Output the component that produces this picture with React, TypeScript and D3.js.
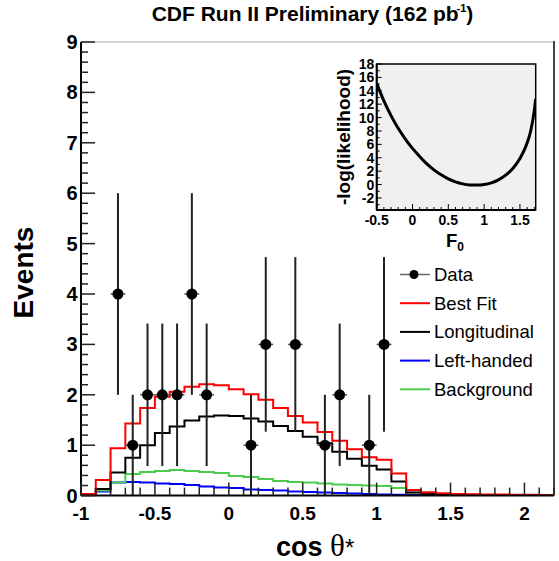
import React from "react";
import * as d3 from "d3";

// ---------- data ----------
const histStart = -1;
const binWidth = 0.1;
const bestFit = [0.03, 0.31, 0.94, 1.43, 1.74, 1.96, 2.06, 2.16, 2.21, 2.19, 2.11, 2.01, 1.9, 1.74, 1.58, 1.45, 1.26, 1.09, 0.92, 0.76, 0.71, 0.44, 0.11, 0.065, 0.045, 0.03, 0.025, 0.02, 0.02, 0.015, 0.015, 0.01];
const longitudinal = [0.02, 0.13, 0.46, 0.75, 1.0, 1.24, 1.37, 1.49, 1.57, 1.59, 1.58, 1.53, 1.47, 1.38, 1.28, 1.17, 1.04, 0.87, 0.73, 0.59, 0.52, 0.28, 0.06, 0.03, 0.02, 0.015, 0.01, 0.01, 0.01, 0.005, 0.005, 0.005];
const leftHanded = [0.0, 0.08, 0.26, 0.27, 0.26, 0.24, 0.23, 0.21, 0.18, 0.16, 0.15, 0.12, 0.11, 0.1, 0.08, 0.07, 0.06, 0.05, 0.04, 0.03, 0.02, 0.015, 0.01, 0.005, 0.005, 0.003, 0.002, 0.002, 0.002, 0.001, 0.001, 0.001];
const background = [0.0, 0.1, 0.26, 0.43, 0.47, 0.49, 0.51, 0.49, 0.47, 0.45, 0.39, 0.37, 0.33, 0.29, 0.27, 0.26, 0.24, 0.22, 0.21, 0.2, 0.19, 0.15, 0.06, 0.04, 0.025, 0.02, 0.015, 0.01, 0.01, 0.01, 0.005, 0.005];

const dataX = [-0.75, -0.65, -0.55, -0.45, -0.35, -0.25, -0.15, 0.15, 0.25, 0.45, 0.65, 0.75, 0.95, 1.05];
const dataY = [4, 1, 2, 2, 2, 4, 2, 1, 3, 3, 1, 2, 1, 3];

const xTickValues = [-1, -0.5, 0, 0.5, 1, 1.5, 2];
const xTickLabels = ["-1", "-0.5", "0", "0.5", "1", "1.5", "2"];
const yTickValues = [0, 1, 2, 3, 4, 5, 6, 7, 8, 9];
const yTickLabels = ["0", "1", "2", "3", "4", "5", "6", "7", "8", "9"];

const legendLabels = ["Data", "Best Fit", "Longitudinal", "Left-handed", "Background"];
const legendColors = ["#000000", "#ff0000", "#000000", "#0000ff", "#4ccc4c"];

const likeF0 = [-0.5, -0.4, -0.3, -0.2, -0.1, 0, 0.1, 0.2, 0.3, 0.4, 0.5, 0.6, 0.7, 0.8, 0.9, 1.0, 1.1, 1.2, 1.3, 1.4, 1.5, 1.55, 1.6, 1.65, 1.7, 1.72];
const likeVal = [15.1, 12.5, 10.3, 8.4, 6.8, 5.4, 4.2, 3.1, 2.2, 1.45, 0.85, 0.4, 0.1, -0.05, -0.08, 0.0, 0.25, 0.7, 1.4, 2.4, 3.9, 4.9, 6.2, 8.0, 11.0, 12.8];
const insetXTicks = [-0.5, 0, 0.5, 1, 1.5];
const insetXTickLabels = ["-0.5", "0", "0.5", "1", "1.5"];
const insetYTicks = [-2, 0, 2, 4, 6, 8, 10, 12, 14, 16, 18];
const insetYTickLabels = ["-2", "0", "2", "4", "6", "8", "10", "12", "14", "16", "18"];

const SANS = "'Liberation Sans', Arial, Helvetica, sans-serif";

export default function App() {
  const W = 559, H = 561;
  const left = 81, right = 554, top = 42, bottom = 495.6;
  const x = d3.scaleLinear().domain([-1, 2.2]).range([left, right]);
  const y = d3.scaleLinear().domain([0, 9]).range([bottom, top]);

  const histPath = (vals: number[]) => {
    const pts: [number, number][] = [];
    vals.forEach((v, i) => {
      const x0 = histStart + i * binWidth;
      pts.push([x(x0), y(v)], [x(x0 + binWidth), y(v)]);
    });
    return d3.line()(pts) || "";
  };

  const yMinor = d3.range(0, 9.0001, 0.2);
  const xMinor = d3.range(-1, 2.2001, 0.1);

  // inset
  const iL = 376.7, iR = 535.7, iT = 64, iB = 210;
  const ix = d3.scaleLinear().domain([-0.5, 1.72]).range([iL, iR]);
  const iy = d3.scaleLinear().domain([-3.8, 18]).range([iB, iT]);
  const curve = d3
    .line<number>()
    .x((d, i) => ix(likeF0[i]))
    .y((d) => iy(d))
    .curve(d3.curveMonotoneX)(likeVal) || "";
  const iXMinor = d3.range(-0.5, 1.7001, 0.1);
  const iYMinor = d3.range(-3, 18.001, 1);

  const legendY = [274.5, 303.2, 331.9, 360.6, 389.3];

  return (
    <svg width={W} height={H} style={{ position: "absolute", left: 0, top: 0, background: "#fff" }} fontFamily={SANS}>
      <defs>
        <clipPath id="frameClip">
          <rect x={left} y={top} width={right - left} height={bottom - top} />
        </clipPath>
        <clipPath id="insetClip">
          <rect x={iL} y={iT} width={iR - iL} height={iB - iT} />
        </clipPath>
      </defs>

      {/* title */}
      <text x={312.5} y={21} textAnchor="middle" fontSize={21} fontWeight="bold">
        CDF Run II Preliminary (162 pb
        <tspan fontSize={11} dy={-9} dx={-2}>-1</tspan>
        <tspan dy={9}>)</tspan>
      </text>

      {/* frame top / right */}
      <line x1={left} x2={right} y1={top} y2={top} stroke="#c8c8c8" strokeWidth={1.5} />
      <line x1={right} x2={right} y1={top - 1} y2={bottom} stroke="#444" strokeWidth={2} />

      {/* histograms */}
      <g clipPath="url(#frameClip)" fill="none" strokeWidth={2}>
        <path d={histPath(leftHanded)} stroke="#0000ff" />
        <path d={histPath(background)} stroke="#4ccc4c" />
        <path d={histPath(longitudinal)} stroke="#000000" />
        <path d={histPath(bestFit)} stroke="#ff0000" />
      </g>

      {/* data */}
      <g>
        {dataX.map((dx, i) => {
          const v = dataY[i];
          const e = Math.sqrt(v);
          return (
            <g key={i}>
              <line x1={x(dx)} x2={x(dx)} y1={y(Math.min(9, v + e))} y2={y(Math.max(0, v - e))} stroke="#222" strokeWidth={2} />
              <line x1={x(dx - binWidth / 2)} x2={x(dx + binWidth / 2)} y1={y(v)} y2={y(v)} stroke="#555" strokeWidth={1.5} />
              <circle cx={x(dx)} cy={y(v)} r={5.5} fill="#000" />
            </g>
          );
        })}
      </g>

      {/* axes */}
      <line x1={left} x2={left} y1={top} y2={bottom} stroke="#000" strokeWidth={2} />
      <line x1={left} x2={right} y1={bottom} y2={bottom} stroke="#000" strokeWidth={2} />
      {yMinor.map((v, i) => {
        const major = Math.abs(v - Math.round(v)) < 1e-6;
        return <line key={"ym" + i} x1={left} x2={left + (major ? 14 : 7)} y1={y(v)} y2={y(v)} stroke="#222" strokeWidth={1.5} />;
      })}
      {xMinor.map((v, i) => {
        const major = Math.abs(v * 2 - Math.round(v * 2)) < 1e-6;
        return <line key={"xm" + i} x1={x(v)} x2={x(v)} y1={bottom} y2={bottom - (major ? 13 : 8)} stroke="#222" strokeWidth={1.5} />;
      })}
      {yTickValues.map((v, i) => (
        <text key={"yl" + i} x={77.5} y={y(v) + 7} textAnchor="end" fontSize={20} fontWeight="bold">
          {yTickLabels[i]}
        </text>
      ))}
      {xTickValues.map((v, i) => (
        <text key={"xl" + i} x={x(v)} y={520} textAnchor="middle" fontSize={19} fontWeight="bold">
          {xTickLabels[i]}
        </text>
      ))}

      {/* axis titles */}
      <text x={276} y={555.5} fontSize={27} fontWeight="bold">
        cos{" "}
        <tspan fontFamily="'Liberation Serif', 'Times New Roman', serif" fontWeight="normal" fontSize={31}>θ</tspan>
        <tspan fontWeight="normal" fontSize={24}>*</tspan>
      </text>
      <text transform={`translate(32.7,272.5) rotate(-90)`} textAnchor="middle" fontSize={28} fontWeight="bold">
        Events
      </text>

      {/* legend */}
      {legendLabels.map((lab, i) => (
        <g key={"lg" + i}>
          {i === 0 ? (
            <>
              <line x1={400} x2={430} y1={legendY[i]} y2={legendY[i]} stroke="#666" strokeWidth={1.5} />
              <circle cx={414} cy={legendY[i]} r={4.5} fill="#000" />
            </>
          ) : (
            <line x1={400} x2={430} y1={legendY[i]} y2={legendY[i]} stroke={legendColors[i]} strokeWidth={2} />
          )}
          <text x={434} y={legendY[i] + 6.5} fontSize={18.5}>
            {lab}
          </text>
        </g>
      ))}

      {/* inset */}
      <rect x={iL} y={iT} width={iR - iL} height={iB - iT} fill="#f0f0f0" stroke="#000" strokeWidth={1.5} />
      {iXMinor.map((v, i) => {
        const major = Math.abs(v * 2 - Math.round(v * 2)) < 1e-6;
        return <line key={"ixm" + i} x1={ix(v)} x2={ix(v)} y1={iB} y2={iB - (major ? 6 : 3)} stroke="#000" strokeWidth={1} />;
      })}
      {iYMinor.map((v, i) => {
        const major = Math.abs(v / 2 - Math.round(v / 2)) < 1e-6;
        return <line key={"iym" + i} x1={iL} x2={iL + (major ? 5 : 3)} y1={iy(v)} y2={iy(v)} stroke="#000" strokeWidth={1} />;
      })}
      <path d={curve} fill="none" stroke="#000" strokeWidth={3} clipPath="url(#insetClip)" />
      <line x1={iL} x2={iL} y1={iT} y2={iB} stroke="#000" strokeWidth={2} />
      <line x1={iL} x2={iR} y1={iB} y2={iB} stroke="#000" strokeWidth={2} />
      {insetYTicks.map((v, i) => (
        <text key={"iyl" + i} x={374.3} y={iy(v) + 5} textAnchor="end" fontSize={14} fontWeight="bold">
          {insetYTickLabels[i]}
        </text>
      ))}
      {insetXTicks.map((v, i) => (
        <text key={"ixl" + i} x={ix(v)} y={225} textAnchor="middle" fontSize={14} fontWeight="bold">
          {insetXTickLabels[i]}
        </text>
      ))}
      <text x={455} y={246.7} textAnchor="middle" fontSize={18.5} fontWeight="bold">
        F<tspan fontSize={12} dy={4}>0</tspan>
      </text>
      <text transform={`translate(350,137) rotate(-90)`} textAnchor="middle" fontSize={19} fontWeight="bold">
        -log(likelihood)
      </text>
    </svg>
  );
}
